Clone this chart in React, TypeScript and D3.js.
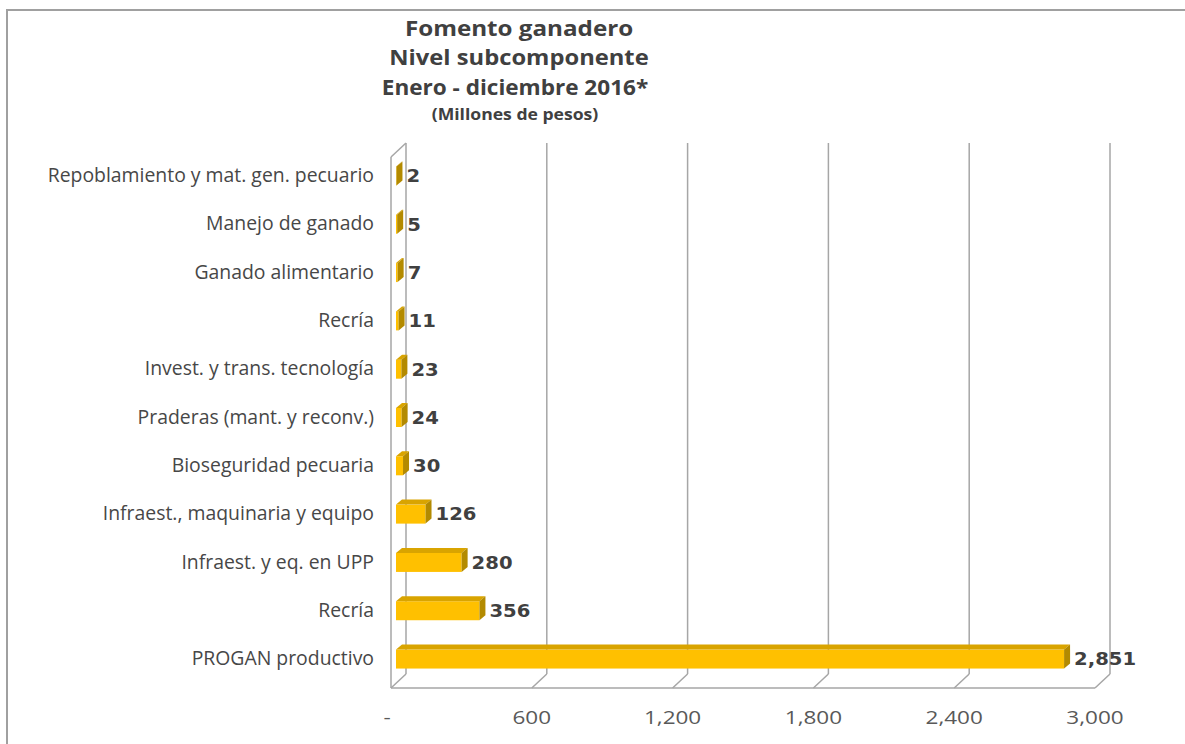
import React from "react";
import * as d3 from "d3";

const categories = [
  "Repoblamiento y mat. gen. pecuario",
  "Manejo de ganado",
  "Ganado alimentario",
  "Recría",
  "Invest. y trans. tecnología",
  "Praderas (mant. y reconv.)",
  "Bioseguridad pecuaria",
  "Infraest., maquinaria y equipo",
  "Infraest. y eq. en UPP",
  "Recría ",
  "PROGAN productivo",
];
const values = [2, 5, 7, 11, 23, 24, 30, 126, 280, 356, 2851];
const ticks = [0, 600, 1200, 1800, 2400, 3000];
const titleLines = ["Fomento ganadero", "Nivel subcomponente", "Enero - diciembre 2016*", "(Millones de pesos)"];

const W = 1185, H = 744;
const DX = 15, DY = 14;
const FONT = "'Open Sans', sans-serif";
const VFONT = "'DejaVu Sans', 'Open Sans', sans-serif";

function SText(props: {
  x: number; y: number; s: number; children: React.ReactNode; [k: string]: any;
}) {
  const { x, y, s, children, ...rest } = props;
  return (
    <text transform={`translate(${x},${y}) scale(${s},1)`} {...rest}>
      {children}
    </text>
  );
}

export default function App() {
  const xFront = d3.scaleLinear().domain([0, 3000]).range([391, 1095]);
  const xBack = (v: number) => xFront(v) + DX;
  const xBar = d3.scaleLinear().domain([0, 3000]).range([396, 1099]);
  const y = d3.scaleBand().domain(categories).range([152.8, 684.2]);
  const floorY = 688;
  const topY = 143;
  const fmt = (v: number) => (v === 0 ? "-" : d3.format(",")(v));
  const grid = "#a6a6a6";

  return (
    <svg width={W} height={H} style={{ position: "absolute", left: 0, top: 0, background: "#fff" }}>
      <rect x={7} y={10} width={W + 10} height={H + 10} fill="#fff" stroke="#a0a0a0" strokeWidth={2} />
      {/* title */}
      <g fill="#404040" fontFamily={FONT} fontWeight="bold" textAnchor="middle">
        <SText x={519} y={36} s={1.1} fontSize={22}>{titleLines[0]}</SText>
        <SText x={519} y={65} s={1.08} fontSize={22}>{titleLines[1]}</SText>
        <SText x={515} y={95} s={1.1} fontSize={20.5}>{titleLines[2]}</SText>
        <SText x={515} y={120} s={1.1} fontSize={16}>{titleLines[3]}</SText>
      </g>
      {/* back wall gridlines, floor and left wall */}
      <g stroke={grid} strokeWidth={1.5} fill="none">
        {ticks.map((t) => (
          <line key={"g" + t} x1={xBack(t)} x2={xBack(t)} y1={topY} y2={floorY - DY} />
        ))}
        {ticks.map((t) => (
          <line key={"d" + t} x1={xFront(t)} x2={xBack(t)} y1={floorY} y2={floorY - DY} />
        ))}
        <line x1={xFront(0)} x2={xFront(3000)} y1={floorY} y2={floorY} />
        <line x1={xFront(0)} x2={xFront(0)} y1={topY + DY} y2={floorY} />
        <line x1={xFront(0)} x2={xBack(0)} y1={topY + DY} y2={topY} />
      </g>
      {/* bars */}
      {categories.map((c, i) => {
        const cy = (y(c) as number) + y.bandwidth() / 2 - 1;
        const x0 = xBar(0);
        const x1 = xBar(values[i]);
        const h = 9.5, bdx = 6, bdy = 5;
        const top = `M${x0},${cy - h}L${x1},${cy - h}L${x1 + bdx},${cy - h - bdy}L${x0 + bdx},${cy - h - bdy}Z`;
        const side = `M${x1},${cy - h}L${x1 + bdx},${cy - h - bdy}L${x1 + bdx},${cy + h - bdy}L${x1},${cy + h}Z`;
        return (
          <g key={i}>
            <rect x={x0} y={cy - h} width={x1 - x0} height={2 * h} fill="#FFC000" />
            <path d={top} fill="#D9A400" />
            <path d={side} fill="#B38A00" />
            <SText
              x={x1 + bdx + 4}
              y={cy + 1}
              s={1.06}
              dominantBaseline="middle"
              fontFamily={VFONT}
              fontWeight="bold"
              fontSize={18.5}
              fill="#404040"
            >
              {fmt(values[i])}
            </SText>
          </g>
        );
      })}
      {/* category labels */}
      <g fontFamily={FONT} fontSize={19.4} fill="#474747" textAnchor="end">
        {categories.map((c) => (
          <text key={c} x={374} y={(y(c) as number) + y.bandwidth() / 2} dominantBaseline="middle">
            {c.trim()}
          </text>
        ))}
      </g>
      {/* x tick labels */}
      <g fontFamily={FONT} fontSize={18} fill="#595959" textAnchor="middle">
        {ticks.map((t) => (
          <SText key={"t" + t} x={xFront(t) + (t === 0 ? -4 : 0)} y={719} s={1.25} dominantBaseline="middle">
            {fmt(t)}
          </SText>
        ))}
      </g>
    </svg>
  );
}
